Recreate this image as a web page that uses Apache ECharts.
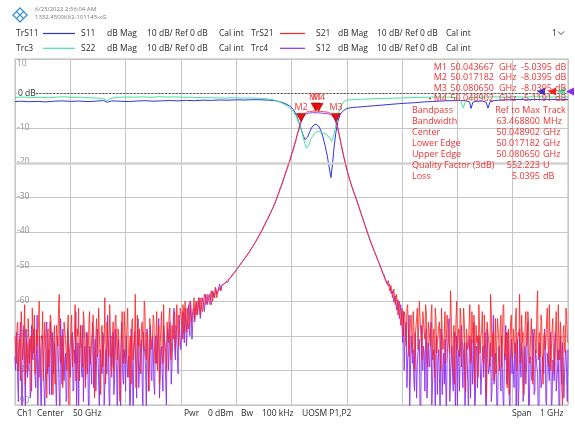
<!DOCTYPE html>
<html><head><meta charset="utf-8">
<script src="https://cdn.jsdelivr.net/npm/echarts@6/dist/echarts.min.js"></script>
<style>html,body{margin:0;padding:0;background:#fff}#c{width:575px;height:429px}</style>
</head><body><div id="c"></div>
<script>
// ---------- sweep ----------
const sweepStartGHz = 49.5, sweepStopGHz = 50.5, sweepStepGHz = 0.0025;
const xTickStepGHz = 0.1;
const yMin = -90, yMax = 10, yStep = 10;

// ---------- S21 (dB) on the sweep grid ----------
const s21LowStart = 49.5;
const s21Low = [
-70,-78,-66,-74,-83,-68,-72,-61,-77,-80,
-69,-75,-86,-71,-64,-79,-73,-67,-82,-70,
-63,-76,-72,-88,-68,-74,-65,-79,-71,-84,
-67,-73,-58,-78,-70,-81,-66,-75,-69,-90,
-72,-64,-77,-70,-83,-68,-62,-76,-73,-79,
-66,-85,-71,-74,-63,-78,-69,-72,-80,-65,
-75,-70,-87,-67,-73,-59,-79,-71,-76,-68,
-82,-66,-74,-64,-77,-70,-89,-69,-72,-63,
-78,-67,-75,-71,-84,-65,-73,-58,-79,-70,
-68,-81,-66,-74,-62,-77,-72,-86,-69,-71,
-64,-76,-70,-80,-67,-73,-63,-78,-71,-75,
-66,-72,-62,-77,-69,-64,-74,-61,-70,-67,
-63,-71,-65,-60,-69,-64,-67,-61,-66,-62,
-65,-60,-63,-59,-64,-61,-62,-58,-61,-60,
-59,-61,-57,-60,-58,-56,-59,-57,-56,-57,
-55,-56,-54.5,-55,-53.5,-54,-53,-52.6,-52,-51.5
];
const s21LowMidStart = 49.50125;
const s21LowMid = [
-74,-67,-80,-71,-63,-77,-69,-84,-72,-65,
-78,-70,-62,-75,-81,-68,-73,-60,-76,-71,
-83,-66,-74,-69,-79,-64,-72,-87,-67,-75,
-70,-62,-77,-73,-85,-66,-71,-80,-64,-74,
-68,-79,-72,-61,-76,-70,-83,-67,-74,-63,
-73,-69,-81,-66,-78,-71,-64,-88,-70,-76,
-62,-75,-68,-79,-72,-84,-66,-73,-61,-77,
-71,-80,-65,-72,-68,-86,-74,-63,-78,-69,
-75,-62,-82,-70,-66,-77,-71,-85,-64,-73,
-79,-67,-72,-60,-76,-69,-81,-65,-74,-70,
-66,-78,-63,-73,-84,-68,-75,-61,-72,-80,
-69,-64,-76,-67,-71,-63,-70,-66,-73,-62,
-67,-61,-69,-64,-62,-68,-60,-65,-63,-59,
-62,-64,-60,-62,-59,-63,-60,-59,-61,-58,
-60,-58,-59,-57.5,-59,-57,-57.5,-56,-57,-55.5,
-56,-55,-55,-54,-54,-53.2,-53.5,-52.3,-52.3,-51.2
];
const s21BandStart = 49.9;
const s21Band = [
-51.0,-50.4,-49.9,-49.4,-48.9,-48.3,-47.8,-47.2,-46.7,-46.1,
-45.5,-44.8,-44.2,-43.5,-42.9,-42.2,-41.5,-40.8,-40.0,-39.2,
-38.4,-37.6,-36.8,-36.0,-35.2,-34.3,-33.5,-32.6,-31.7,-30.6,
-29.5,-28.4,-27.3,-26.2,-25.0,-23.8,-22.6,-21.4,-20.2,-19.0,
-17.7,-16.4,-15.0,-13.6,-12.1,-10.6,-9.1,-7.9,-6.9,-6.1,
-5.6,-5.35,-5.2,-5.15,-5.12,-5.1,-5.07,-5.05,-5.05,-5.08,
-5.12,-5.15,-5.2,-5.22,-5.25,-5.3,-5.35,-5.45,-5.6,-5.85,
-6.3,-6.9,-7.8,-9.0,-10.8,-12.8,-14.8,-16.7,-18.5,-20.2,
-21.8,-23.3,-24.7,-26.0,-27.2,-28.4,-29.5,-30.6,-31.8,-33.0,
-34.2,-35.4,-36.6,-37.8,-39.0,-40.2,-41.4,-42.5,-43.6,-44.6,
-45.6,-46.6,-47.6,-48.8,-49.5,-50.8,-51.2,-53.0,-52.5,-55.0,
-54.0,-57.0,-55.5,-59.0,-56.5,-61.0,-58.0,-64.0,-60.0,-67.0
];
const s21HighStart = 50.2;
const s21High = [
-62,-70,-64,-73,-61,-76,-66,-69,-63,-80,
-70,-62,-67,-65,-72,-63,-69,-61,-74,-66,
-71,-64,-77,-68,-62,-75,-70,-66,-80,-69,
-73,-63,-78,-67,-71,-57,-76,-70,-84,-65,
-74,-68,-62,-79,-71,-66,-86,-70,-73,-61,
-77,-69,-64,-75,-72,-82,-67,-70,-63,-78,
-71,-88,-66,-74,-58,-76,-69,-73,-81,-65,
-72,-67,-79,-62,-75,-70,-85,-68,-73,-64,
-77,-71,-66,-80,-69,-58,-74,-72,-87,-67,
-73,-63,-78,-70,-65,-82,-68,-75,-57,-71,
-76,-66,-84,-69,-72,-62,-79,-70,-74,-65,
-81,-68,-73,-61,-77,-70,-90,-67,-75,-64,
-72
];
const s21HighMidStart = 50.20125;
const s21HighMid = [
-66,-63,-71,-62,-68,-72,-64,-75,-67,-70,
-65,-74,-60,-69,-77,-66,-71,-63,-79,-68,
-73,-61,-70,-82,-65,-72,-67,-76,-62,-74,
-69,-78,-64,-71,-75,-63,-80,-67,-72,-60,
-70,-76,-65,-73,-62,-81,-68,-74,-66,-78,
-63,-72,-84,-67,-70,-61,-75,-69,-77,-64,
-74,-66,-71,-79,-63,-70,-83,-65,-72,-68,
-80,-64,-73,-61,-76,-69,-71,-87,-66,-74,
-68,-75,-62,-72,-70,-78,-64,-69,-81,-63,
-71,-67,-76,-65,-84,-70,-73,-62,-77,-69,
-64,-79,-70,-74,-66,-72,-61,-80,-68,-75,
-70,-63,-77,-72,-66,-85,-69,-74,-62,-71
];

// ---------- S12 (dB) on the sweep grid ----------
const s12LowStart = 49.5;
const s12Low = [
-76,-69,-84,-72,-66,-94,-74,-79,-68,-82,
-73,-88,-67,-77,-71,-85,-64,-80,-75,-93,
-70,-78,-83,-66,-74,-87,-72,-69,-81,-76,
-92,-71,-79,-65,-84,-73,-77,-89,-68,-75,
-82,-70,-86,-74,-63,-80,-95,-72,-78,-67,
-76,-83,-69,-88,-73,-79,-66,-85,-71,-77,
-68,-92,-75,-81,-70,-84,-74,-64,-87,-72,
-79,-69,-83,-76,-94,-71,-78,-66,-82,-74,
-86,-70,-77,-91,-68,-81,-73,-75,-88,-65,
-80,-72,-84,-69,-76,-93,-71,-79,-67,-83,
-74,-87,-70,-78,-65,-82,-73,-86,-69,-76,
-71,-80,-66,-84,-72,-62,-77,-69,-81,-64,
-74,-66,-70,-62,-73,-65,-68,-60,-71,-63,
-66,-61,-64,-59,-65,-62,-60,-63,-58,-61,
-60,-58,-61,-57,-59,-56,-58,-57,-55,-57,
-56,-55,-55.5,-54,-54.5,-53.5,-53.5,-52.4,-52.3,-51.6
];
const s12LowMidStart = 49.50125;
const s12LowMid = [
-80,-72,-89,-70,-77,-84,-67,-93,-75,-79,
-71,-86,-74,-68,-82,-76,-90,-70,-85,-73,
-78,-92,-69,-81,-74,-66,-87,-77,-72,-84,
-70,-79,-94,-73,-68,-83,-75,-88,-71,-80,
-76,-69,-85,-78,-91,-72,-74,-67,-82,-89,
-73,-80,-70,-94,-77,-84,-71,-75,-86,-68,
-83,-74,-79,-69,-90,-76,-81,-72,-93,-70,
-75,-87,-68,-80,-73,-78,-92,-71,-84,-77,
-70,-82,-76,-89,-72,-94,-69,-79,-74,-85,
-77,-71,-91,-73,-80,-68,-86,-75,-82,-70,
-84,-72,-78,-69,-88,-74,-81,-67,-76,-90,
-68,-75,-70,-79,-65,-73,-67,-76,-64,-71,
-70,-63,-72,-66,-69,-61,-70,-64,-67,-62,
-63,-60,-62,-61,-63,-59,-61,-60,-59,-60,
-59,-58,-60,-57,-58,-56.5,-57.5,-56,-56,-55.5,
-55.5,-55,-54.5,-54.2,-54,-53.5,-53,-52.4,-52,-51.4
];
const s12BandStart = 49.9;
const s12Band = [
-51.2,-50.5,-49.9,-49.5,-48.8,-48.4,-47.7,-47.3,-46.6,-46.2,
-45.4,-44.9,-44.1,-43.6,-42.8,-42.3,-41.4,-40.9,-39.9,-39.3,
-38.3,-37.7,-36.7,-36.1,-35.1,-34.4,-33.4,-32.7,-31.6,-30.7,
-29.4,-28.5,-27.2,-26.4,-24.9,-24.0,-22.5,-21.6,-20.1,-19.2,
-17.6,-16.6,-14.9,-13.9,-12.0,-10.9,-9.2,-8.3,-7.3,-6.6,
-6.1,-5.8,-5.7,-5.6,-5.6,-5.55,-5.55,-5.5,-5.5,-5.55,
-5.6,-5.6,-5.65,-5.7,-5.7,-5.75,-5.8,-5.9,-6.0,-6.25,
-6.7,-7.3,-8.2,-9.3,-11.0,-12.9,-14.9,-16.8,-18.6,-20.3,
-21.9,-23.4,-24.8,-26.1,-27.3,-28.5,-29.6,-30.7,-31.9,-33.1,
-34.3,-35.5,-36.7,-37.9,-39.1,-40.3,-41.5,-42.6,-43.7,-44.7,
-45.7,-46.7,-47.8,-48.6,-49.9,-50.5,-51.8,-52.4,-53.8,-54.3,
-55.6,-55.0,-57.8,-57.0,-60.2,-58.4,-62.5,-59.6,-65.0,-61.0
];
const s12HighStart = 50.2;
const s12High = [
-68,-63,-72,-66,-77,-64,-81,-70,-74,-86,
-69,-78,-73,-93,-67,-80,-75,-71,-88,-72,
-79,-66,-84,-74,-92,-70,-77,-82,-68,-87,
-75,-71,-94,-78,-65,-83,-73,-86,-69,-80,
-91,-74,-77,-67,-85,-72,-81,-76,-93,-70,
-78,-84,-66,-89,-73,-79,-71,-87,-75,-82,
-69,-92,-76,-80,-72,-86,-64,-83,-78,-95,
-73,-81,-70,-88,-75,-67,-84,-79,-93,-71,
-77,-85,-72,-80,-91,-68,-82,-75,-87,-73,
-79,-66,-94,-76,-83,-70,-86,-74,-81,-92,
-72,-84,-78,-68,-89,-75,-80,-71,-93,-77,
-83,-69,-86,-74,-91,-79,-72,-88,-76,-81,
-74
];
const s12HighMidStart = 50.20125;
const s12HighMid = [
-72,-80,-67,-85,-74,-91,-70,-78,-83,-69,
-88,-75,-71,-94,-79,-73,-86,-68,-82,-77,
-70,-90,-76,-81,-72,-87,-74,-93,-69,-80,
-84,-71,-78,-67,-89,-75,-82,-73,-92,-70,
-77,-86,-69,-80,-74,-94,-72,-83,-76,-88,
-71,-79,-91,-74,-85,-70,-78,-87,-73,-82,
-93,-68,-81,-76,-89,-72,-84,-75,-90,-79,
-74,-86,-70,-92,-77,-83,-69,-88,-75,-81,
-80,-73,-94,-71,-85,-78,-72,-89,-76,-84,
-70,-91,-77,-82,-68,-87,-74,-79,-93,-72,
-85,-76,-81,-71,-90,-75,-83,-69,-88,-78,
-73,-86,-79,-92,-70,-84,-77,-81,-74,-89
];

// ---------- S11 / S22 (GHz, dB) ----------
const s11Trace = [
[49.50,-2.3],[49.51,-2.2],[49.525,-2.35],[49.54,-2.25],[49.555,-2.4],[49.57,-2.2],[49.585,-2.1],[49.60,-2.25],
[49.615,-2.15],[49.63,-2.3],[49.645,-2.2],[49.66,-2.0],[49.667,-2.5],[49.675,-2.1],[49.69,-2.2],[49.705,-2.3],
[49.72,-2.15],[49.735,-2.05],[49.75,-2.2],[49.765,-2.1],[49.78,-2.0],[49.795,-2.1],[49.81,-1.95],[49.825,-2.05],
[49.84,-1.9],[49.855,-1.95],[49.87,-1.85],[49.885,-1.9],[49.90,-1.8],[49.915,-1.85],[49.93,-1.75],[49.945,-1.8],
[49.96,-1.9],[49.972,-2.1],[49.982,-2.5],[49.99,-3.0],[49.997,-3.6],[50.003,-4.5],[50.009,-6.3],[50.015,-9.0],
[50.020,-11.6],[50.0245,-13.3],[50.029,-12.6],[50.033,-11.0],[50.037,-9.7],[50.041,-9.0],[50.045,-8.9],[50.049,-9.4],
[50.053,-10.6],[50.057,-12.6],[50.061,-15.2],[50.065,-18.3],[50.068,-21.2],[50.0714,-24.3],[50.0745,-19.8],[50.077,-15.5],
[50.080,-11.5],[50.084,-8.0],[50.088,-6.0],[50.094,-4.9],[50.10,-4.3],[50.11,-4.0],[50.12,-3.9],[50.135,-3.7],
[50.15,-3.5],[50.165,-3.3],[50.18,-3.1],[50.195,-2.9],[50.21,-2.75],[50.225,-2.6],[50.24,-2.4],[50.255,-2.3],
[50.27,-2.15],[50.285,-2.05],[50.30,-2.0],[50.315,-2.05],[50.322,-2.4],[50.3246,-4.3],[50.328,-2.5],[50.335,-2.2],
[50.345,-2.15],[50.352,-2.5],[50.3553,-4.2],[50.359,-2.4],[50.367,-2.0],[50.38,-1.85],[50.395,-1.75],[50.41,-1.7],
[50.425,-1.8],[50.44,-1.7],[50.455,-1.75],[50.47,-1.7],[50.485,-1.75],[50.50,-1.7]
];
const s22Trace = [
[49.50,-1.1],[49.515,-1.0],[49.53,-1.15],[49.545,-1.05],[49.56,-1.2],[49.575,-1.0],[49.59,-0.95],[49.605,-1.1],
[49.62,-1.05],[49.635,-1.2],[49.65,-1.3],[49.66,-1.5],[49.666,-2.1],[49.672,-1.4],[49.685,-1.1],[49.70,-1.0],
[49.715,-1.05],[49.73,-0.95],[49.745,-1.1],[49.76,-0.9],[49.775,-1.0],[49.79,-0.95],[49.805,-1.1],[49.82,-1.05],
[49.835,-1.2],[49.85,-1.15],[49.865,-1.25],[49.88,-1.3],[49.895,-1.2],[49.91,-1.3],[49.925,-1.25],[49.94,-1.35],
[49.955,-1.5],[49.967,-1.8],[49.977,-2.3],[49.986,-3.0],[49.993,-3.7],[50.000,-4.6],[50.005,-5.6],[50.010,-7.0],
[50.015,-9.2],[50.020,-11.8],[50.024,-14.4],[50.0275,-15.8],[50.031,-14.9],[50.036,-12.8],[50.042,-11.4],[50.048,-10.9],
[50.056,-11.3],[50.0636,-11.9],[50.0685,-12.8],[50.0727,-13.8],[50.0765,-11.9],[50.0817,-8.0],[50.0865,-5.0],[50.0908,-3.2],
[50.095,-2.3],[50.0998,-1.9],[50.11,-1.75],[50.125,-1.65],[50.14,-1.55],[50.155,-1.45],[50.17,-1.4],[50.185,-1.3],
[50.20,-1.25],[50.215,-1.15],[50.23,-1.1],[50.245,-1.05],[50.26,-1.0],[50.275,-1.0],[50.29,-1.05],[50.30,-1.2],
[50.306,-2.0],[50.3107,-4.2],[50.315,-1.9],[50.32,-1.2],[50.335,-1.05],[50.35,-1.0],[50.365,-0.95],[50.38,-1.0],
[50.40,-0.95],[50.42,-1.0],[50.44,-0.9],[50.46,-0.95],[50.48,-1.0],[50.50,-0.95]
];

// ---------- markers ----------
const markerNames = ['M1','M2','M3','M4'];
const markerFreqGHz = [50.043667, 50.017182, 50.080650, 50.048902];
const markerDb = [-5.0395, -8.0395, -8.0395, -5.1191];
const markerFreqText = ['50.043667','50.017182','50.080650','50.048902'];
const markerDbText = ['-5.0395','-8.0395','-8.0395','-5.1191'];
const bandLabels = ['Bandpass','Bandwidth','Center','Lower Edge','Upper Edge','Quality Factor (3dB)','Loss'];
const bandValues = ['Ref to Max','63.468800','50.048902','50.017182','50.080650','552.223','5.0395'];
const bandUnits = ['Track','MHz','GHz','GHz','GHz','U','dB'];

// ---------- header / footer text ----------
const traceRows = [
  ['TrS11','S11','dB Mag','10 dB/ Ref 0 dB','Cal int','TrS21','S21','dB Mag','10 dB/ Ref 0 dB','Cal int'],
  ['Trc3','S22','dB Mag','10 dB/ Ref 0 dB','Cal int','Trc4','S12','dB Mag','10 dB/ Ref 0 dB','Cal int']
];
const footerItems = ['Ch1','Center','50 GHz','Pwr','0 dBm','Bw','100 kHz','UOSM P1,P2','Span','1 GHz'];
const stampLines = ['6/23/2022 2:56:04 AM','1332.4500K62-101145-xG'];

const C = {s11:'#2f37d9', s21:'#ff1f1f', s22:'#45e3a2', s12:'#8c2cf0', mark:'#f03333'};
const FONT = '"Open Sans","Noto Sans",sans-serif';

function grid(start, arr){ return arr.map((v,i)=>[+(start + i*sweepStepGHz).toFixed(5), v]); }
function merge(){ const all=[]; for(const p of arguments) all.push(...p); return all.sort((a,b)=>a[0]-b[0]); }
const s21Data = merge(grid(s21LowStart,s21Low), grid(s21LowMidStart,s21LowMid), grid(s21BandStart,s21Band),
  grid(s21HighStart,s21High), grid(s21HighMidStart,s21HighMid));
const s12Data = merge(grid(s12LowStart,s12Low), grid(s12LowMidStart,s12LowMid), grid(s12BandStart,s12Band),
  grid(s12HighStart,s12High), grid(s12HighMidStart,s12HighMid));

const chart = echarts.init(document.getElementById('c'));

function txt(x,y,s,opt){
  opt = opt||{};
  return {type:'text', x:x, y:y, z:100, silent:true,
    style:{text:s, fill:opt.fill||'#2a2a2a', font:(opt.size||8.5)+'px '+FONT,
      align:opt.align||'left', verticalAlign:'middle'}};
}
const graphics = [];
graphics.push({type:'polygon', z:100, shape:{points:[[20,8],[27,15],[20,22],[13,15]]},
  style:{fill:'none', stroke:'#3a8fd8', lineWidth:1.3}});
graphics.push({type:'polyline', z:100, shape:{points:[[16.5,11.5],[23.5,18.5]]}, style:{stroke:'#3a8fd8', lineWidth:1.1}});
graphics.push({type:'polyline', z:100, shape:{points:[[23.5,11.5],[16.5,18.5]]}, style:{stroke:'#3a8fd8', lineWidth:1.1}});
graphics.push(txt(35,9.5,stampLines[0],{size:6,fill:'#777'}));
graphics.push(txt(35,17.5,stampLines[1],{size:6,fill:'#777'}));
const rowY = [33.5,48.3];
const colX = [16,81,107,147,219,251,316,338,377,446];
const rowColors = [[C.s11,C.s21],[C.s22,C.s12]];
traceRows.forEach((row,r)=>{
  row.forEach((s,k)=>graphics.push(txt(colX[k],rowY[r],s)));
  graphics.push({type:'line', z:100, shape:{x1:43,y1:rowY[r],x2:75,y2:rowY[r]}, style:{stroke:rowColors[r][0], lineWidth:1.2}});
  graphics.push({type:'line', z:100, shape:{x1:280,y1:rowY[r],x2:305,y2:rowY[r]}, style:{stroke:rowColors[r][1], lineWidth:1.2}});
});
graphics.push(txt(552,33.5,'1',{}));
graphics.push({type:'polyline', z:100, shape:{points:[[558,31.5],[561,34.5],[564,31.5]]}, style:{stroke:'#333', lineWidth:0.9}});
const footX = [17,37,73,184,208,241,262,302,512,540];
footerItems.forEach((s,k)=>graphics.push(txt(footX[k],414,s)));
const mRowY = [67,77.5,88,98.5];
markerNames.forEach((n,k)=>{
  graphics.push(txt(447,mRowY[k],n,{fill:C.mark,size:9,align:'right'}));
  graphics.push(txt(494,mRowY[k],markerFreqText[k],{fill:C.mark,size:9,align:'right'}));
  graphics.push(txt(499,mRowY[k],'GHz',{fill:C.mark,size:9}));
  graphics.push(txt(552,mRowY[k],markerDbText[k],{fill:C.mark,size:9,align:'right'}));
  graphics.push(txt(555,mRowY[k],'dB',{fill:C.mark,size:9}));
});
graphics.push({type:'circle', z:100, shape:{cx:430,cy:98.5,r:1.1}, style:{fill:C.mark}});
const bRowY = [110,121,132,143,154,165,176];
bandLabels.forEach((s,k)=>{
  graphics.push(txt(412,bRowY[k],s,{fill:C.mark,size:9}));
  graphics.push(txt(540,bRowY[k],bandValues[k],{fill:C.mark,size:9,align:'right'}));
  graphics.push(txt(543,bRowY[k],bandUnits[k],{fill:C.mark,size:9}));
});

function refTri(color, dx){
  return {coord:[sweepStopGHz,0], symbol:'triangle', symbolSize:[8,8], symbolRotate:90,
    symbolOffset:[dx,-2], itemStyle:{color:color}, label:{show:false}};
}
const markerPoints = markerNames.map((n,k)=>({
  name:n, coord:[markerFreqGHz[k], markerDb[k]], symbol:'triangle', symbolSize:[9,8],
  symbolRotate:180, symbolOffset:[0,'-50%'],
  itemStyle:{color:'#e81010', borderColor:'#a00000', borderWidth:0.6},
  label:{show:true, position:'top', distance:1, formatter:n, color:C.mark, fontSize:9, fontFamily:FONT}
}));

const option = {
  animation:false,
  backgroundColor:'#fff',
  grid:{left:15,right:7,top:59,bottom:24,show:true,borderColor:'#b8b8b8',borderWidth:1},
  xAxis:{type:'value',min:sweepStartGHz,max:sweepStopGHz,interval:xTickStepGHz,
    axisLabel:{show:false},axisTick:{show:false},axisLine:{show:false},
    splitLine:{show:true,lineStyle:{color:'#c6c6c6',width:1}}},
  yAxis:{type:'value',min:yMin,max:yMax,interval:yStep,
    axisLine:{show:false},axisTick:{show:false},
    splitLine:{show:true,lineStyle:{color:'#c6c6c6',width:1}},
    axisLabel:{inside:true,margin:2,fontFamily:FONT,fontSize:8.5,color:'#999',
      formatter:function(v){
        if(v===yMax) return '{t|'+v+'}';
        if(v===yMin) return '{b|'+v+'}';
        if(v===0) return '{z|0 dB}';
        return '{n|'+v+'}';
      },
      rich:{n:{color:'#8f8f8f',fontSize:8.5,fontFamily:FONT,padding:[0,0,2,0]},
        t:{color:'#999',fontSize:8.5,fontFamily:FONT,padding:[10,0,0,0]},
        b:{color:'#8f8f8f',fontSize:8.5,fontFamily:FONT,padding:[0,0,8,0]},
        z:{color:'#333',fontSize:8.5,fontFamily:FONT,backgroundColor:'#fff',padding:[0,1,0,1]}}}},
  graphic:graphics,
  series:[
    {name:'S11',type:'line',data:s11Trace,showSymbol:false,z:3,
      lineStyle:{color:C.s11,width:1},itemStyle:{color:C.s11},
      markLine:{silent:true,symbol:['none','none'],label:{show:false},animation:false,
        data:[
          [{coord:[sweepStartGHz,-20]},{coord:[sweepStopGHz,-20]}],
          [{coord:[49.5375,0],lineStyle:{type:[2,1.5],color:'#555',width:1}},{coord:[sweepStopGHz,0]}]
        ],
        lineStyle:{color:'#d2d2d2',width:2.5,type:'solid'}},
      markPoint:{silent:true,animation:false,data:[refTri(C.s11,-27)]}},
    {name:'S22',type:'line',data:s22Trace,showSymbol:false,z:3,
      lineStyle:{color:C.s22,width:1},itemStyle:{color:C.s22},
      markPoint:{silent:true,animation:false,data:[refTri(C.s22,-7)]}},
    {name:'S12',type:'line',data:s12Data,showSymbol:false,z:4,
      lineStyle:{color:C.s12,width:0.9},itemStyle:{color:C.s12},
      markPoint:{silent:true,animation:false,data:[refTri(C.s12,2)]}},
    {name:'S21',type:'line',data:s21Data,showSymbol:false,z:5,
      lineStyle:{color:C.s21,width:0.9,opacity:0.92},itemStyle:{color:C.s21},
      markPoint:{silent:true,animation:false,z:10,data:[refTri(C.s21,-16)].concat(markerPoints)}}
  ]
};
chart.setOption(option);
</script></body></html>
